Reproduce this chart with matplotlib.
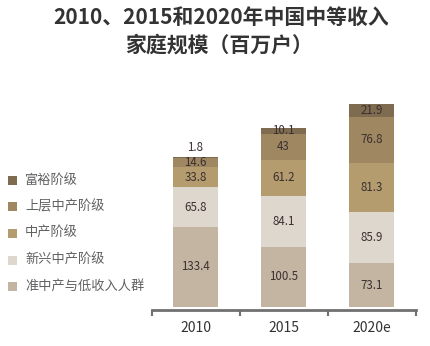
import matplotlib
matplotlib.use("Agg")
import matplotlib.pyplot as plt
from matplotlib.patches import Rectangle

plt.rcParams['font.family'] = ['Noto Sans CJK SC', 'DejaVu Sans']

years = ["2010", "2015", "2020e"]
series_names = ["准中产与低收入人群", "新兴中产阶级", "中产阶级", "上层中产阶级", "富裕阶级"]
low_income = [133.4, 100.5, 73.1]
emerging = [65.8, 84.1, 85.9]
middle = [33.8, 61.2, 81.3]
upper_middle = [14.6, 43, 76.8]
affluent = [1.8, 10.1, 21.9]
series = [low_income, emerging, middle, upper_middle, affluent]
colors = ["#c4b5a2", "#ded7cd", "#b59c6f", "#9f8762", "#7f6b50"]

fig = plt.figure(figsize=(4.3, 3.46), dpi=100)
fig.patch.set_facecolor("white")
ax = fig.add_axes([151.5/430, 1 - 307/346, (415.5-151.5)/430, 207/346])
ax.set_xlim(-0.5, 2.5)
ax.set_ylim(0, 345)

x = list(range(len(years)))
bottom = [0, 0, 0]
for vals, col in zip(series, colors):
    ax.bar(x, vals, bottom=bottom, width=0.51, color=col, edgecolor="none", zorder=2)
    for i, v in enumerate(vals):
        if v < 5:
            ypos = bottom[i] + v + 17
        else:
            ypos = bottom[i] + v / 2
        ax.text(i, ypos, f"{v:g}", ha="center", va="center", fontsize=8.3,
                color="#3a3030", zorder=3)
    bottom = [b + v for b, v in zip(bottom, vals)]

for s in ["top", "right", "left"]:
    ax.spines[s].set_visible(False)
ax.spines["bottom"].set_color("#707070")
ax.spines["bottom"].set_linewidth(2)
ax.spines["bottom"].set_position(("outward", 2))
ax.set_yticks([])
ax.set_xticks([-0.5, 0.5, 1.5, 2.5], minor=False)
ax.set_xticklabels([])
ax.tick_params(axis="x", which="major", length=4, width=1.5, color="#707070", direction="out")
ax.set_xticks(x, minor=True)
ax.set_xticklabels(years, minor=True, fontsize=10, color="#333333")
ax.tick_params(axis="x", which="minor", length=0, pad=8)

# title
fig.text(0.515, 1 - 17/346, "2010、2015和2020年中国中等收入", ha="center", va="center",
         fontsize=15, fontweight="bold", color="#333333")
fig.text(0.51, 1 - 45/346, "家庭规模（百万户）", ha="center", va="center",
         fontsize=15, fontweight="bold", color="#333333")

# legend (custom, top to bottom)
leg_y = [180, 207, 233, 260, 286]
for name, col, yy in zip(series_names[::-1], colors[::-1], leg_y):
    fig.patches.append(Rectangle((8/430, 1 - (yy + 4.5)/346), 9/430, 9/346,
                                 transform=fig.transFigure, facecolor=col, edgecolor="none"))
    fig.text(25/430, 1 - yy/346, name, ha="left", va="center", fontsize=9.5, color="#606060")

fig.savefig("out.png", dpi=100, facecolor="white")
